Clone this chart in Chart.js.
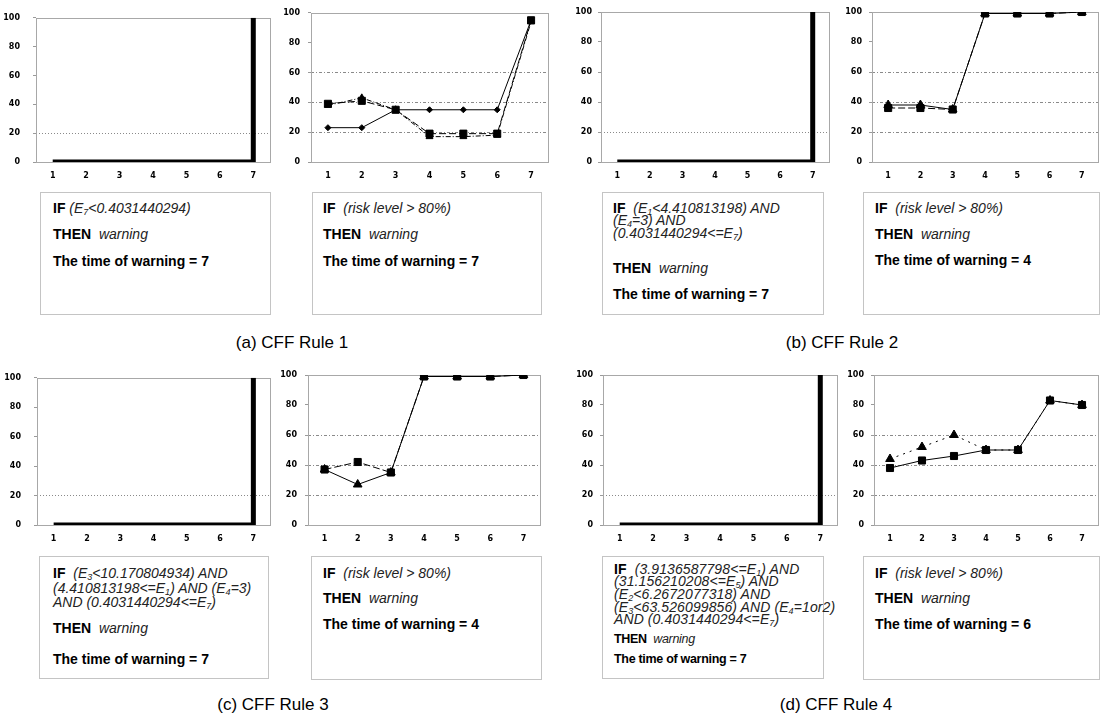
<!DOCTYPE html>
<html>
<head>
<meta charset="utf-8">
<script src="https://cdn.jsdelivr.net/npm/chart.js@4.4.1/dist/chart.umd.min.js"></script>
<style>
  html, body { margin: 0; padding: 0; background: #fff; }
  #stage { position: relative; width: 1104px; height: 718px; overflow: hidden; font-family: "Liberation Sans", Arial, sans-serif; color: #000; }
  canvas { position: absolute; }
  .box { position: absolute; border: 1px solid #c4c4c4; box-sizing: border-box; }
  .ln { position: absolute; white-space: nowrap; font-size: 14px; line-height: 16px; margin-top: -1px; }
  .ln b { font-weight: bold; }
  .ln i { font-style: italic; color: #222; }
  .ln sub { font-size: 9px; line-height: 0; vertical-align: -2px; }
  .tight { font-size: 14px; letter-spacing: 0.1px; }
  .tightb { font-size: 12.5px; letter-spacing: -0.3px; }
  .cap { position: absolute; width: 220px; text-align: center; font-size: 17px; line-height: 20px; }
</style>
</head>
<body>
<div id="stage">
  <canvas id="aL"></canvas><canvas id="aR"></canvas>
  <canvas id="bL"></canvas><canvas id="bR"></canvas>
  <canvas id="cL"></canvas><canvas id="cR"></canvas>
  <canvas id="dL"></canvas><canvas id="dR"></canvas>

  <!-- (a) -->
  <div class="box" style="left:40px;top:192px;width:231px;height:123px;">
    <div class="ln" style="left:12px;top:8px;"><b>IF</b> <i>(E<sub>7</sub>&lt;0.4031440294)</i></div>
    <div class="ln" style="left:12px;top:34px;"><b>THEN</b>&nbsp; <i>warning</i></div>
    <div class="ln" style="left:12px;top:61px;"><b>The time of warning = 7</b></div>
  </div>
  <div class="box" style="left:312px;top:192px;width:230px;height:123px;">
    <div class="ln" style="left:10px;top:8px;"><b>IF</b>&nbsp; <i>(risk level &gt; 80%)</i></div>
    <div class="ln" style="left:10px;top:34px;"><b>THEN</b>&nbsp; <i>warning</i></div>
    <div class="ln" style="left:10px;top:61px;"><b>The time of warning = 7</b></div>
  </div>
  <div class="cap" style="left:182px;top:333px;">(a) CFF Rule 1</div>

  <!-- (b) -->
  <div class="box" style="left:602px;top:192px;width:222px;height:123px;">
    <div class="ln" style="left:10px;top:8px;"><b>IF</b>&nbsp; <i>(E<sub>1</sub>&lt;4.410813198) AND</i></div>
    <div class="ln" style="left:10px;top:20px;"><i>(E<sub>4</sub>=3) AND</i></div>
    <div class="ln" style="left:10px;top:33px;"><i>(0.4031440294&lt;=E<sub>7</sub>)</i></div>
    <div class="ln" style="left:10px;top:68px;"><b>THEN</b>&nbsp; <i>warning</i></div>
    <div class="ln" style="left:10px;top:94px;"><b>The time of warning = 7</b></div>
  </div>
  <div class="box" style="left:863px;top:192px;width:237px;height:123px;">
    <div class="ln" style="left:11px;top:8px;"><b>IF</b>&nbsp; <i>(risk level &gt; 80%)</i></div>
    <div class="ln" style="left:11px;top:34px;"><b>THEN</b>&nbsp; <i>warning</i></div>
    <div class="ln" style="left:11px;top:60px;"><b>The time of warning = 4</b></div>
  </div>
  <div class="cap" style="left:732px;top:333px;">(b) CFF Rule 2</div>

  <!-- (c) -->
  <div class="box" style="left:39px;top:556px;width:230px;height:123px;">
    <div class="ln" style="left:13px;top:9px;"><b>IF</b>&nbsp; <i>(E<sub>3</sub>&lt;10.170804934) AND</i></div>
    <div class="ln" style="left:13px;top:24px;"><i>(4.410813198&lt;=E<sub>1</sub>) AND (E<sub>4</sub>=3)</i></div>
    <div class="ln" style="left:13px;top:38px;"><i>AND (0.4031440294&lt;=E<sub>7</sub>)</i></div>
    <div class="ln" style="left:13px;top:64px;"><b>THEN</b>&nbsp; <i>warning</i></div>
    <div class="ln" style="left:13px;top:95px;"><b>The time of warning = 7</b></div>
  </div>
  <div class="box" style="left:311px;top:556px;width:231px;height:124px;">
    <div class="ln" style="left:11px;top:9px;"><b>IF</b>&nbsp; <i>(risk level &gt; 80%)</i></div>
    <div class="ln" style="left:11px;top:34px;"><b>THEN</b>&nbsp; <i>warning</i></div>
    <div class="ln" style="left:11px;top:60px;"><b>The time of warning = 4</b></div>
  </div>
  <div class="cap" style="left:163px;top:695px;">(c) CFF Rule 3</div>

  <!-- (d) -->
  <div class="box" style="left:602px;top:556px;width:222px;height:123px;">
    <div class="ln tight" style="left:11px;top:5px;"><b>IF</b>&nbsp; <i>(3.9136587798&lt;=E<sub>1</sub>) AND</i></div>
    <div class="ln tight" style="left:11px;top:17px;"><i>(31.156210208&lt;=E<sub>5</sub>) AND</i></div>
    <div class="ln tight" style="left:11px;top:30px;"><i>(E<sub>2</sub>&lt;6.2672077318) AND</i></div>
    <div class="ln tight" style="left:11px;top:43px;"><i>(E<sub>3</sub>&lt;63.526099856) AND (E<sub>4</sub>=1or2)</i></div>
    <div class="ln tight" style="left:11px;top:55px;"><i>AND (0.4031440294&lt;=E<sub>7</sub>)</i></div>
    <div class="ln tightb" style="left:11px;top:75px;"><b>THEN</b>&nbsp; <i>warning</i></div>
    <div class="ln tightb" style="left:11px;top:95px;"><b>The time of warning = 7</b></div>
  </div>
  <div class="box" style="left:863px;top:556px;width:237px;height:124px;">
    <div class="ln" style="left:11px;top:9px;"><b>IF</b>&nbsp; <i>(risk level &gt; 80%)</i></div>
    <div class="ln" style="left:11px;top:34px;"><b>THEN</b>&nbsp; <i>warning</i></div>
    <div class="ln" style="left:11px;top:60px;"><b>The time of warning = 6</b></div>
  </div>
  <div class="cap" style="left:726px;top:695px;">(d) CFF Rule 4</div>
</div>

<script>
// ---- data ----
const categories = ['1', '2', '3', '4', '5', '6', '7'];
const yTickStep = 20;
const yMin = 0;
const yMax = 100;

const rule1Cff = [0, 0, 0, 0, 0, 0, 100];
const rule2Cff = [0, 0, 0, 0, 0, 0, 100];
const rule3Cff = [0, 0, 0, 0, 0, 0, 100];
const rule4Cff = [0, 0, 0, 0, 0, 0, 100];

const rule1RiskA = [23, 23, 35, 35, 35, 35, 95];
const rule1RiskB = [39, 41, 35, 19, 19, 19, 95];
const rule1RiskC = [38, 43, 35, 17, 17, 18, 94];

const rule2RiskA = [38, 38, 35, 99, 99, 99, 100];
const rule2RiskB = [36, 36, 35, 99, 99, 99, 100];

const rule3RiskA = [37, 27, 35, 99, 99, 99, 100];
const rule3RiskB = [37, 42, 35, 99, 99, 99, 100];

const rule4RiskA = [38, 43, 46, 50, 50, 83, 80];
const rule4RiskB = [44, 52, 60, 50, 50, 83, 80];

const cffGridValues = [20];
const riskGridValues = [20, 40, 60];

// ---- helpers ----
const frame = {
  id: 'frame',
  beforeDatasetsDraw(chart) {
    const a = chart.chartArea, ctx = chart.ctx;
    ctx.save();
    ctx.strokeStyle = '#a8a8a8';
    ctx.lineWidth = 1;
    ctx.strokeRect(Math.round(a.left) + 0.5, Math.round(a.top) + 0.5,
                   Math.round(a.right - a.left), Math.round(a.bottom - a.top));
    ctx.restore();
  }
};

const tickFont = { family: 'DejaVu Sans', size: 8, weight: 'bold' };

function build(id, box, datasets, gridValues, dash) {
  const cv = document.getElementById(id);
  cv.width = box.w; cv.height = box.h;
  cv.style.left = box.x + 'px'; cv.style.top = box.y + 'px';
  const yw = box.pl - box.x;
  const padR = box.x + box.w - box.pr;
  const padT = box.pt - box.y;
  const xh = box.y + box.h - box.pb;
  return new Chart(cv, {
    type: 'line',
    data: { labels: categories, datasets: datasets },
    options: {
      responsive: false,
      animation: false,
      events: [],
      layout: { padding: { left: 0, top: padT, right: padR, bottom: 0 } },
      plugins: { legend: { display: false }, tooltip: { enabled: false } },
      scales: {
        x: {
          offset: true,
          grid: { display: false, drawTicks: false },
          border: { display: false },
          ticks: { font: tickFont, color: '#000', padding: 9, maxRotation: 0 },
          afterFit(s) { s.height = xh; }
        },
        y: {
          min: yMin, max: yMax,
          ticks: { stepSize: yTickStep, font: tickFont, color: '#000', padding: box.lp },
          grid: {
            color: (c) => (c.tick && gridValues.includes(c.tick.value)) ? '#8a8a8a' : 'rgba(0,0,0,0)',
            tickColor: '#9a9a9a',
            tickLength: 3,
            borderDash: dash
          },
          border: { display: false, dash: dash },
          afterFit(s) { s.width = yw; }
        }
      }
    },
    plugins: [frame]
  });
}

function cffSet(values) {
  return [{ data: values, borderColor: '#000', borderWidth: 5, stepped: true,
            pointRadius: 0, fill: false, borderCapStyle: 'butt' }];
}
function risk(values, style, shape, r, dash) {
  return { data: values, borderColor: '#000', borderWidth: 1, borderDash: dash || [],
           pointStyle: shape, pointRadius: r, pointBackgroundColor: '#000',
           pointBorderColor: '#000', fill: false, tension: 0 };
}

const dotted = [1, 2];
const dashDot = [3, 2, 1, 2];

build('aL', { x: 0, y: 0, w: 280, h: 190, pl: 36, pr: 270, pt: 12, pb: 162, lp: 13 }, cffSet(rule1Cff), cffGridValues, dotted);
build('aR', { x: 280, y: 0, w: 275, h: 190, pl: 311, pr: 548, pt: 12, pb: 162, lp: 8 }, [
  risk(rule1RiskA, 'solid', 'rectRot', 3, []),
  risk(rule1RiskB, 'dash', 'rect', 5, [7, 3]),
  risk(rule1RiskC, 'dashdot', 'triangle', 4, [5, 2, 1, 2])
], riskGridValues, dashDot);

build('bL', { x: 560, y: 0, w: 275, h: 190, pl: 601, pr: 829, pt: 12, pb: 162, lp: 6 }, cffSet(rule2Cff), cffGridValues, dotted);
build('bR', { x: 835, y: 0, w: 269, h: 190, pl: 872, pr: 1100, pt: 12, pb: 162, lp: 7 }, [
  risk(rule2RiskA, 'solid', 'triangle', 5, []),
  risk(rule2RiskB, 'dash', 'rect', 5, [7, 3])
], riskGridValues, dashDot);

build('cL', { x: 0, y: 360, w: 280, h: 190, pl: 37, pr: 270, pt: 375, pb: 525, lp: 13 }, cffSet(rule3Cff), cffGridValues, dotted);
build('cR', { x: 280, y: 360, w: 275, h: 190, pl: 308, pr: 540, pt: 375, pb: 525, lp: 8 }, [
  risk(rule3RiskA, 'solid', 'triangle', 5, []),
  risk(rule3RiskB, 'dash', 'rect', 5, [7, 3])
], riskGridValues, dashDot);

build('dL', { x: 560, y: 360, w: 280, h: 190, pl: 603, pr: 837, pt: 375, pb: 525, lp: 7 }, cffSet(rule4Cff), cffGridValues, dotted);
build('dR', { x: 840, y: 360, w: 264, h: 190, pl: 874, pr: 1100, pt: 375, pb: 525, lp: 7 }, [
  risk(rule4RiskB, 'dotted', 'triangle', 5, [2, 5]),
  risk(rule4RiskA, 'solid', 'rect', 5, [])
], riskGridValues, dashDot);
</script>
</body>
</html>
